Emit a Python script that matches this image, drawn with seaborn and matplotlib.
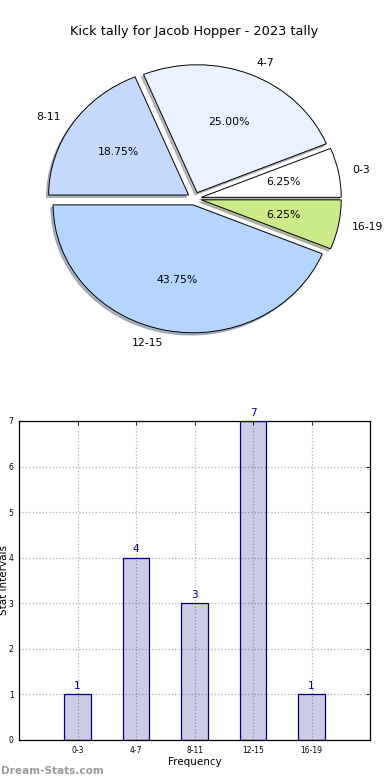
import seaborn as sns
import pandas as pd
from matplotlib import pyplot as plt
from matplotlib.colors import to_rgba

# pie data, counter-clockwise from 0 degrees
pie_labels = ["0-3", "4-7", "8-11", "12-15", "16-19"]
pie_counts = [1, 4, 3, 7, 1]
pie_colors = ["#ffffff", "#eaf2ff", "#c5d9ff", "#b5d5ff", "#cdea8a"]

# bar data
bar_labels = ["0-3", "4-7", "8-11", "12-15", "16-19"]
bar_counts = [1, 4, 3, 7, 1]

sns.set_style("white")
plt.rcParams['font.family'] = ['DejaVu Sans']
plt.rcParams['text.color'] = 'black'
plt.rcParams['axes.labelcolor'] = 'black'
plt.rcParams['xtick.color'] = 'black'
plt.rcParams['ytick.color'] = 'black'

fig = plt.figure(figsize=(3.9, 7.8), dpi=100)

# ---- pie (stretched like the old non-equal aspect default) ----
ax1 = fig.add_axes([0.05, 0.5404, 0.897, 0.410])
wedges, texts, autotexts = ax1.pie(
    pie_counts, labels=pie_labels, colors=pie_colors, autopct="%1.2f%%",
    explode=[0.05] * len(pie_counts),
    shadow={"ox": -0.011, "oy": -0.013, "shade": 0.5}, startangle=0,
    wedgeprops={"edgecolor": "black", "linewidth": 0.7},
    textprops={"fontsize": 7.8})
ax1.set_aspect("auto")
ax1.set_xlim(-1.25, 1.25)
ax1.set_ylim(-1.25, 1.25)
ax1.set_title("Kick tally for Jacob Hopper - 2023 tally", fontsize=9.3, pad=3)

# ---- bars ----
ax2 = fig.add_axes([0.049, 0.0513, 0.9, 0.409])
bar_df = pd.DataFrame({"interval": bar_labels, "count": bar_counts})
sns.barplot(data=bar_df, x="interval", y="count", ax=ax2, width=0.45,
            color=to_rgba("navy", 0.2), edgecolor="navy", linewidth=0.9,
            saturation=1, zorder=3)
for p in ax2.patches:
    p.set_facecolor(to_rgba("navy", 0.2))
ax2.set_xlim(-1, 5)
ax2.set_ylim(0, 7)
ax2.set_yticks(range(0, 8))
ax2.grid(True, linestyle=":", color="#b0b0b0", linewidth=0.9, zorder=0)
ax2.set_axisbelow(True)
for i, v in enumerate(bar_counts):
    ax2.text(i, v + 0.07, str(v), ha="center", va="bottom", color="navy",
             fontsize=7.5, clip_on=False)
ax2.tick_params(axis="both", direction="in", labelsize=5.5, length=3,
                top=True, right=True, width=0.6, pad=4)
for s in ax2.spines.values():
    s.set_color("black")
    s.set_linewidth(0.9)
ax2.set_xlabel("Frequency", fontsize=7.5, labelpad=2)
ax2.set_ylabel("Stat Intervals", fontsize=7.5)
ax2.yaxis.set_label_coords(-0.028, 0.5)

fig.text(0.002, 0.005, "Dream-Stats.com", fontsize=7.6, color="#9a9a9a",
         fontweight="bold", ha="left", va="bottom")

fig.savefig("out.png", dpi=100)
